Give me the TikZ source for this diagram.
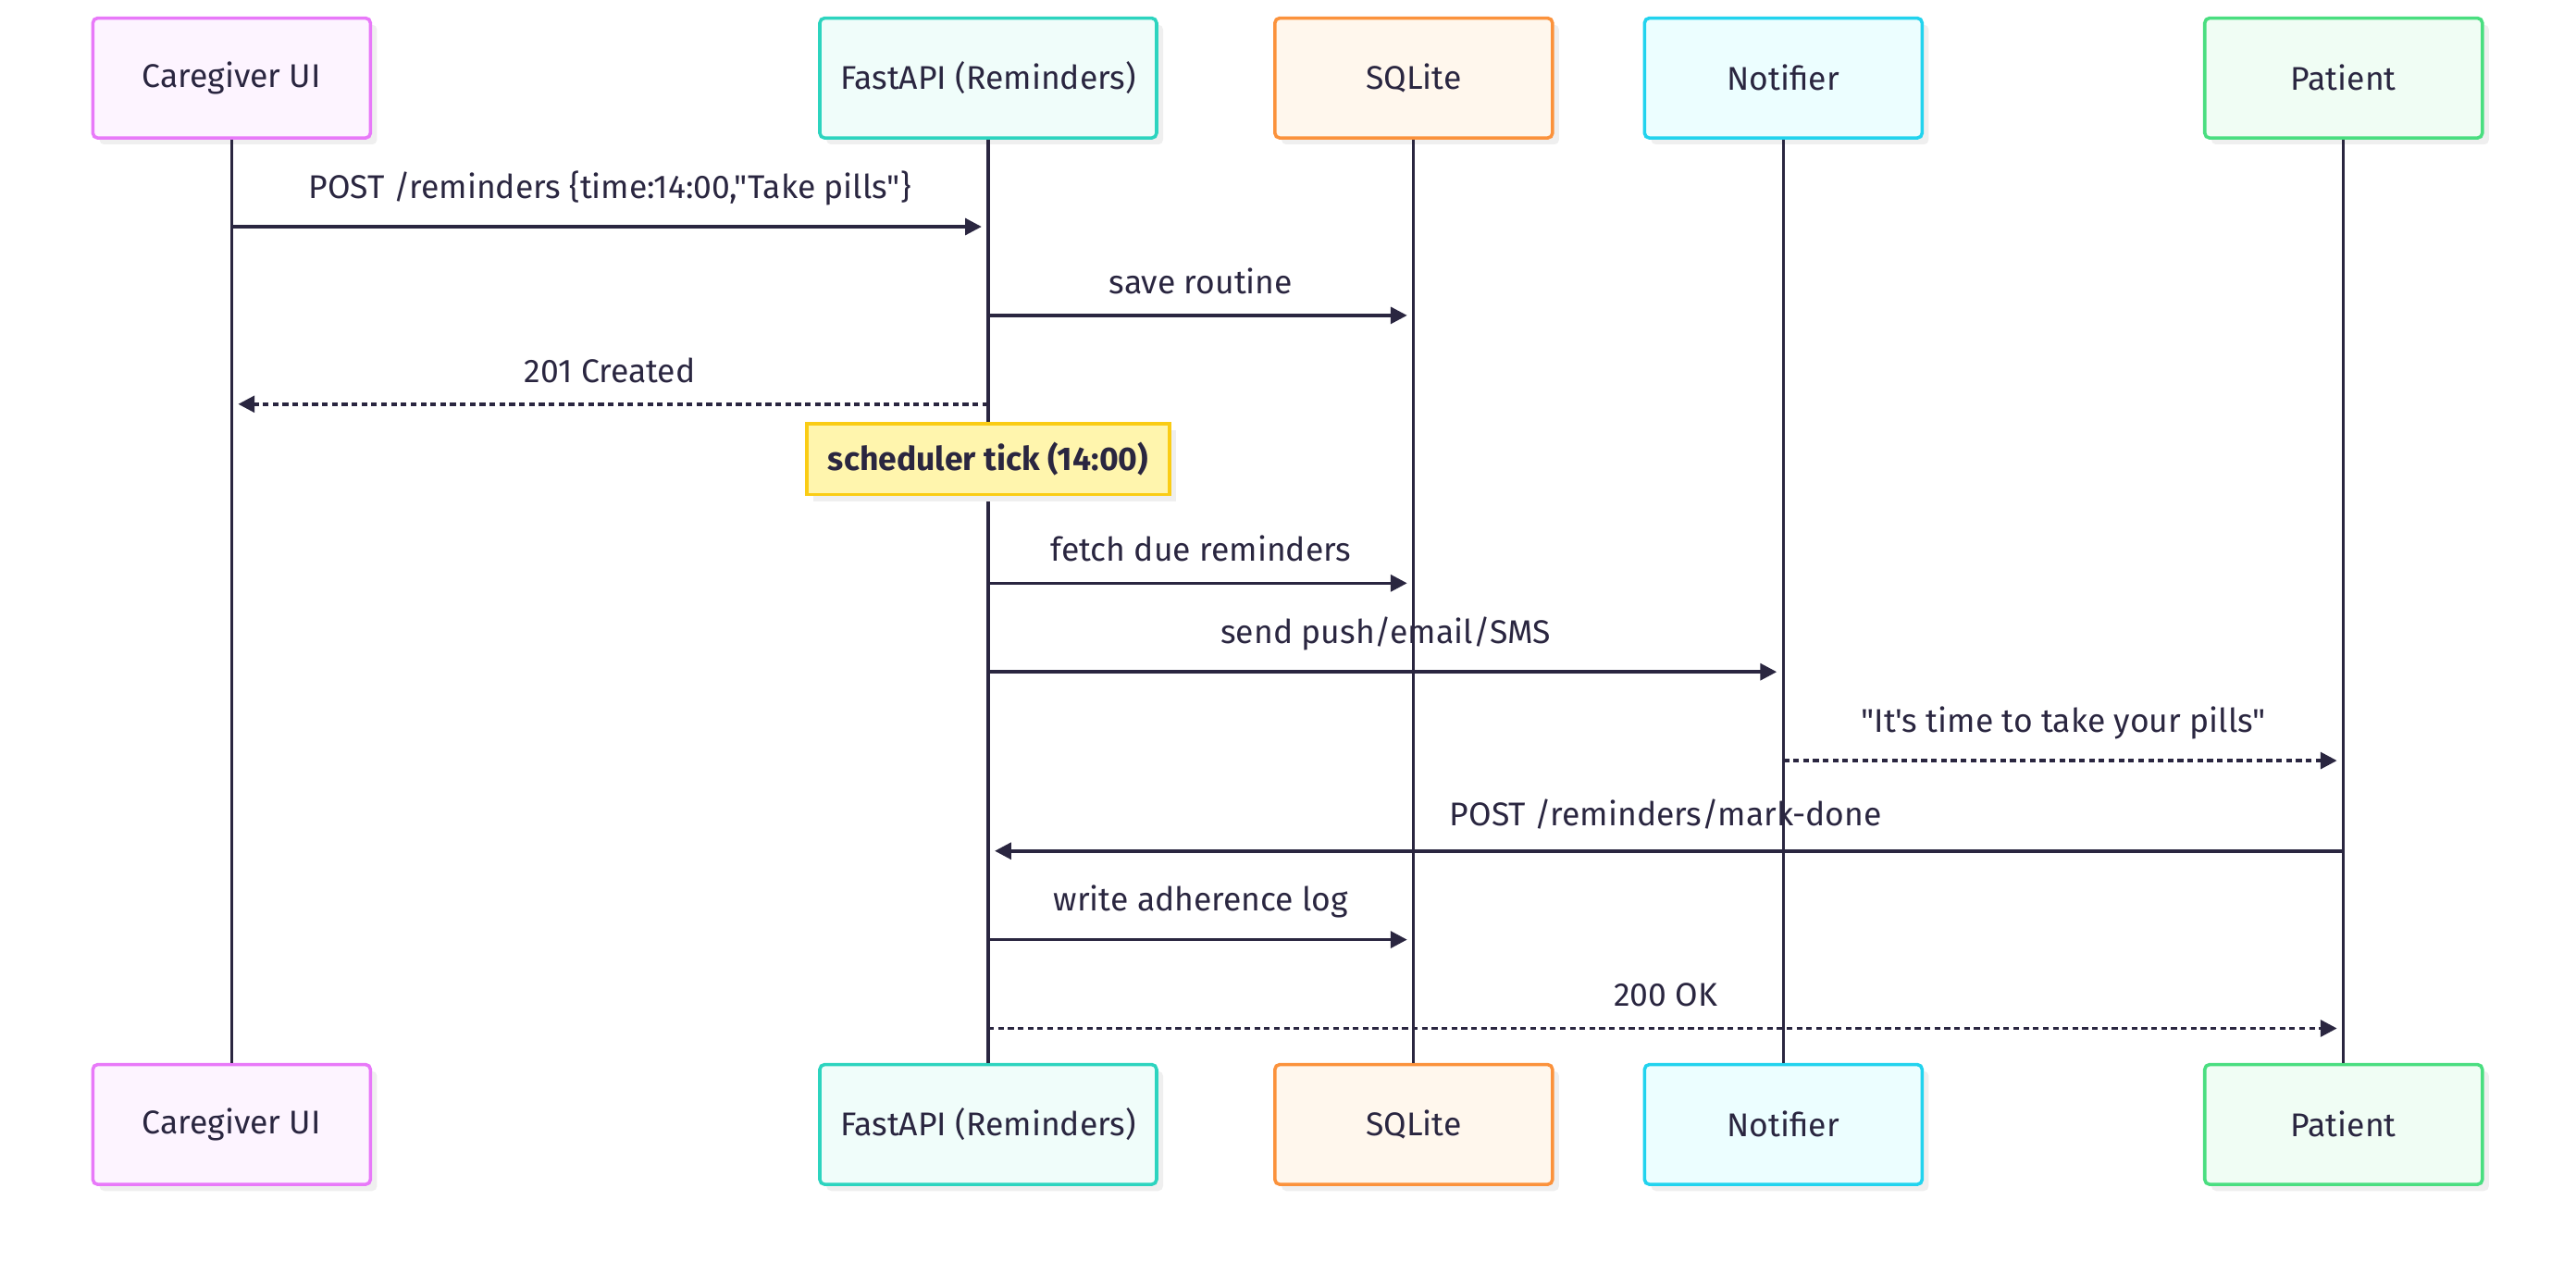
\documentclass[tikz,border=0pt]{standalone}
\usepackage{fontspec}
\setmainfont{Fira Sans}[Ligatures=TeXOff]
\usetikzlibrary{arrows.meta,shadows}

\definecolor{ink}{HTML}{2A2640}
\definecolor{shade}{HTML}{EFEFEF}
\definecolor{cgline}{HTML}{E879F9}\definecolor{cgfill}{HTML}{FDF4FF}
\definecolor{apiline}{HTML}{2DD4BF}\definecolor{apifill}{HTML}{F0FDFA}
\definecolor{sqlline}{HTML}{FB923C}\definecolor{sqlfill}{HTML}{FFF7ED}
\definecolor{ntline}{HTML}{22D3EE}\definecolor{ntfill}{HTML}{ECFEFF}
\definecolor{ptline}{HTML}{4ADE80}\definecolor{ptfill}{HTML}{F0FDF4}
\definecolor{noteline}{HTML}{FACC15}\definecolor{notefill}{HTML}{FFF5AD}

\tikzset{
  actor/.style={draw, rounded corners=3pt, line width=2pt, minimum width=169pt,
    minimum height=73pt, text=ink, font=\fontsize{20}{24}\selectfont,
    drop shadow={shadow xshift=4pt, shadow yshift=-4pt, fill=shade, opacity=1}},
  life/.style={ink, line width=1.8pt},
  msg/.style={ink, line width=2pt, -{Triangle[length=10pt,width=10pt]}, shorten >=4pt},
  reply/.style={msg, dash pattern=on 3.5pt off 2.5pt},
  lbl/.style={above=10pt, text=ink, font=\fontsize{20}{24}\selectfont, inner sep=2pt}
}

\begin{document}
\begin{tikzpicture}[x=1pt, y=1pt]
    \useasboundingbox (0,0) rectangle (1568,-768);

    % 上の参加者
    \node[actor, draw=cgline, fill=cgfill] (cgT) at (141,-47.5) {Caregiver UI};
    \node[actor, draw=apiline, fill=apifill, minimum width=205pt] (apiT) at (601.5,-47.5) {FastAPI (Reminders)};
    \node[actor, draw=sqlline, fill=sqlfill] (sqlT) at (860.5,-47.5) {SQLite};
    \node[actor, draw=ntline, fill=ntfill] (ntT) at (1085.5,-47.5) {Notifier};
    \node[actor, draw=ptline, fill=ptfill] (ptT) at (1426.5,-47.5) {Patient};

    % 下の参加者
    \node[actor, draw=cgline, fill=cgfill] (cgB) at (141,-684.5) {Caregiver UI};
    \node[actor, draw=apiline, fill=apifill, minimum width=205pt] (apiB) at (601.5,-684.5) {FastAPI (Reminders)};
    \node[actor, draw=sqlline, fill=sqlfill] (sqlB) at (860.5,-684.5) {SQLite};
    \node[actor, draw=ntline, fill=ntfill] (ntB) at (1085.5,-684.5) {Notifier};
    \node[actor, draw=ptline, fill=ptfill] (ptB) at (1426.5,-684.5) {Patient};

    % ライフライン
    \draw[life] (cgT) -- (cgB);
    \draw[life] (apiT) -- (apiB);
    \draw[life] (sqlT) -- (sqlB);
    \draw[life] (ntT) -- (ntB);
    \draw[life] (ptT) -- (ptB);

    % メッセージの高さ
    \coordinate (m1) at (0,-138);
    \coordinate (m2) at (0,-192);
    \coordinate (m3) at (0,-246);
    \coordinate (m4) at (0,-355);
    \coordinate (m5) at (0,-409);
    \coordinate (m6) at (0,-463);
    \coordinate (m7) at (0,-518);
    \coordinate (m8) at (0,-572);
    \coordinate (m9) at (0,-626);

    % メッセージ
    \draw[msg] (cgT |- m1) -- node[lbl] {POST /reminders \{time:14:00,"Take pills"\}} (apiT |- m1);
    \draw[msg] (apiT |- m2) -- node[lbl] {save routine} (sqlT |- m2);
    \draw[reply] (apiT |- m3) -- node[lbl] {201 Created} (cgT |- m3);

    % ノート
    \node[draw=noteline, fill=notefill, line width=2pt, minimum width=221pt, minimum height=43pt,
      text=ink, font=\fontsize{20}{24}\selectfont\bfseries,
      drop shadow={shadow xshift=4pt, shadow yshift=-4pt, fill=shade, opacity=1}]
      (tick) at (601.5,-279.5) {scheduler tick (14:00)};

    \draw[msg] (apiT |- m4) -- node[lbl] {fetch due reminders} (sqlT |- m4);
    \draw[msg] (apiT |- m5) -- node[lbl] {send push/email/SMS} (ntT |- m5);
    \draw[reply] (ntT |- m6) -- node[lbl] {"It's time to take your pills"} (ptT |- m6);
    \draw[msg] (ptT |- m7) -- node[lbl] {POST /reminders/mark-done} (apiT |- m7);
    \draw[msg] (apiT |- m8) -- node[lbl] {write adherence log} (sqlT |- m8);
    \draw[reply] (apiT |- m9) -- node[lbl] {200 OK} (ptT |- m9);

  \end{tikzpicture}
\end{document}
